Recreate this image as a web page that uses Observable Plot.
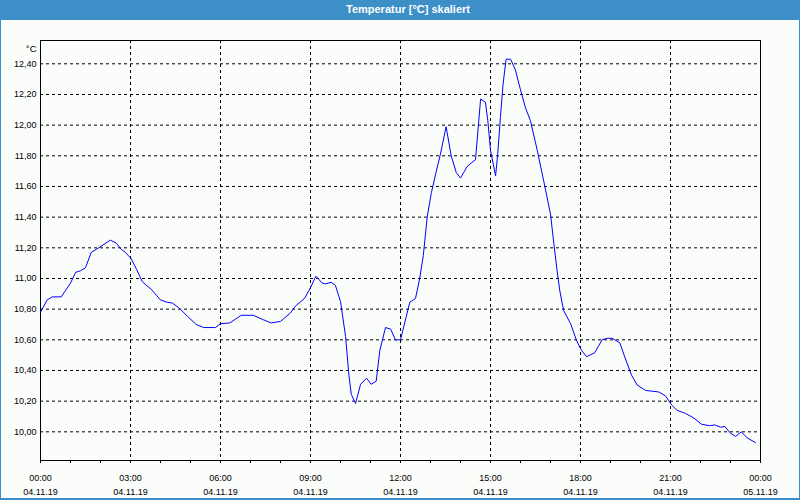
<!DOCTYPE html>
<html>
<head>
<meta charset="utf-8">
<script src="https://cdn.jsdelivr.net/npm/d3@7"></script>
<script src="https://cdn.jsdelivr.net/npm/@observablehq/plot@0.6"></script>
<style>
  html, body { margin: 0; padding: 0; background: #fbfdfb; }
  #win { position: relative; width: 800px; height: 500px; background: #fbfdfb; overflow: hidden; font-family: "Liberation Sans", Arial, sans-serif; }
  #title { height: 20px; background: #3c8fc7; color: #fff; font-weight: bold; font-size: 11px; line-height: 19px; text-align: center; padding-left: 16px; box-sizing: border-box; }
  #border { position: absolute; left: 0; top: 0; right: 0; bottom: 0; border: 1px solid #3c8fc7; border-bottom-width: 2px; pointer-events: none; }
  svg { display: block; }
</style>
</head>
<body>
<div id="win">
  <div id="title">Temperatur [°C] skaliert</div>
  <div id="chart"></div>
  <div id="border"></div>
</div>
<script>
const hours = [0.0,0.22,0.39,0.69,1.0,1.17,1.33,1.5,1.69,1.94,2.33,2.53,2.69,2.83,3.02,3.2,3.39,3.5,3.69,4.0,4.22,4.39,4.61,4.89,5.19,5.44,5.83,6.0,6.31,6.69,7.09,7.44,7.69,8.0,8.33,8.5,8.8,9.0,9.18,9.39,9.5,9.69,9.83,10.0,10.17,10.28,10.36,10.5,10.67,10.87,11.02,11.19,11.31,11.5,11.67,11.83,12.0,12.31,12.5,12.64,12.76,12.89,13.03,13.17,13.33,13.52,13.69,13.86,14.0,14.22,14.5,14.67,14.83,14.91,15.0,15.17,15.24,15.33,15.42,15.52,15.67,15.83,16.0,16.17,16.33,16.56,16.78,17.0,17.11,17.22,17.31,17.44,17.67,17.87,18.02,18.2,18.47,18.72,18.89,19.06,19.31,19.5,19.7,19.89,20.17,20.61,20.83,21.06,21.22,21.5,21.78,22.03,22.3,22.47,22.67,22.81,23.0,23.17,23.36,23.56,23.83];
const temps = [10.78,10.86,10.88,10.88,10.97,11.04,11.05,11.07,11.17,11.20,11.25,11.23,11.19,11.17,11.13,11.06,10.98,10.96,10.93,10.86,10.845,10.84,10.81,10.755,10.70,10.68,10.68,10.705,10.71,10.76,10.76,10.73,10.71,10.72,10.775,10.82,10.87,10.94,11.015,10.97,10.965,10.975,10.955,10.85,10.62,10.37,10.245,10.185,10.31,10.35,10.31,10.33,10.53,10.68,10.67,10.60,10.60,10.845,10.87,11.00,11.15,11.40,11.56,11.68,11.81,11.99,11.80,11.69,11.655,11.73,11.775,12.17,12.15,12.03,11.835,11.67,11.81,12.05,12.27,12.43,12.43,12.36,12.23,12.11,12.03,11.835,11.63,11.42,11.23,11.05,10.92,10.79,10.705,10.595,10.535,10.49,10.515,10.60,10.61,10.61,10.58,10.475,10.37,10.305,10.27,10.26,10.235,10.17,10.14,10.12,10.09,10.05,10.04,10.045,10.03,10.035,9.99,9.97,10.0,9.96,9.93];

const majorHours = [0, 3, 6, 9, 12, 15, 18, 21, 24];
const xTimeLabels = ["00:00","03:00","06:00","09:00","12:00","15:00","18:00","21:00","00:00"];
const xDateLabels = ["04.11.19","04.11.19","04.11.19","04.11.19","04.11.19","04.11.19","04.11.19","04.11.19","05.11.19"];
const minorHours = d3.range(0, 25);
const gridHours = [3, 6, 9, 12, 15, 18, 21];
const yTicks = [10.0, 10.2, 10.4, 10.6, 10.8, 11.0, 11.2, 11.4, 11.6, 11.8, 12.0, 12.2, 12.4];
const yUnit = "°C";

const data = hours.map((h, i) => ({h, t: temps[i]}));
const fmtY = d => d.toFixed(2).replace(".", ",");
const fmtX = d => { const i = majorHours.indexOf(d); return xTimeLabels[i] + "\n" + xDateLabels[i]; };

const chart = Plot.plot({
  width: 800,
  height: 480,
  marginTop: 20,
  marginBottom: 40,
  marginLeft: 40,
  marginRight: 40,
  style: {background: "transparent", color: "#000", fontFamily: "'Liberation Sans', Arial, sans-serif", fontSize: "9px"},
  x: {type: "linear", domain: [0, 24]},
  y: {domain: [9.813, 12.552]},
  marks: [
    Plot.gridY(yTicks, {stroke: "#000", strokeOpacity: 1, strokeDasharray: "3,3"}),
    Plot.gridX(gridHours, {stroke: "#000", strokeOpacity: 1, strokeDasharray: "3,3"}),
    Plot.frame({stroke: "#000"}),
    Plot.axisY({ticks: yTicks, tickSize: 0, tickPadding: 4, tickFormat: fmtY, label: null}),
    Plot.axisX({ticks: minorHours, tickSize: 3, tickFormat: () => "", label: null}),
    Plot.axisX({ticks: majorHours, tickSize: 0, tickPadding: 11, tickFormat: fmtX, lineHeight: 1.55, label: null}),
    Plot.text([yUnit], {frameAnchor: "top-left", dx: -4, dy: 4.5, textAnchor: "end", fontSize: 9.5}),
    Plot.line(data, {x: "h", y: "t", stroke: "#0000ff", strokeWidth: 1})
  ]
});
document.getElementById("chart").appendChild(chart);
</script>
</body>
</html>
